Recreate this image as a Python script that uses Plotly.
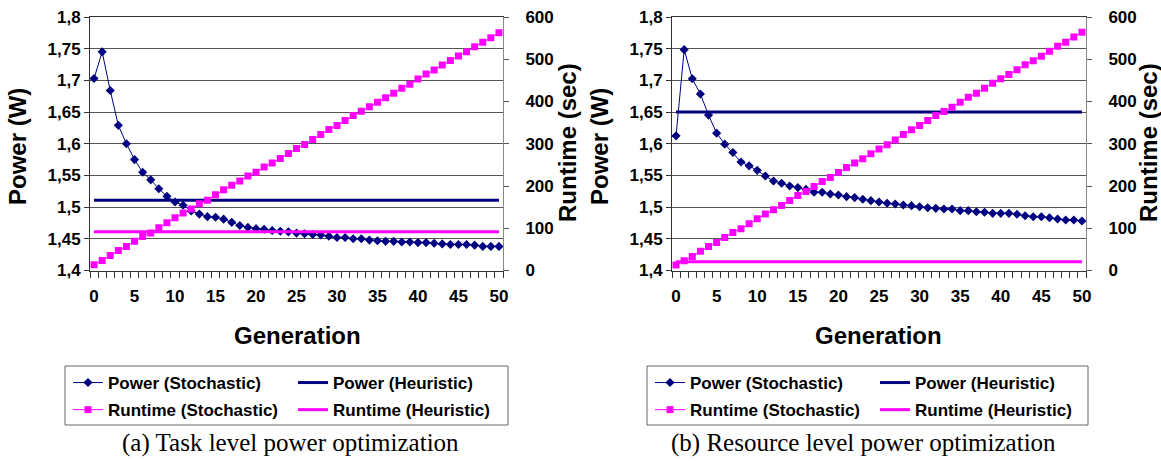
import plotly.graph_objects as go

W, H = 1161, 462

generation = list(range(51))
x_tick_vals = [0, 5, 10, 15, 20, 25, 30, 35, 40, 45, 50]
x_tick_text = ["0", "5", "10", "15", "20", "25", "30", "35", "40", "45", "50"]
power_tick_vals = [1.4, 1.45, 1.5, 1.55, 1.6, 1.65, 1.7, 1.75, 1.8]
power_tick_text = ["1,4", "1,45", "1,5", "1,55", "1,6", "1,65", "1,7", "1,75", "1,8"]
runtime_tick_vals = [0, 100, 200, 300, 400, 500, 600]
runtime_tick_text = ["0", "100", "200", "300", "400", "500", "600"]

# (a) Task level
task_power_stoch = [1.703, 1.745, 1.684, 1.629, 1.600, 1.575, 1.555, 1.543, 1.529, 1.517,
                    1.508, 1.503, 1.494, 1.489, 1.485, 1.484, 1.481, 1.476, 1.471, 1.468,
                    1.466, 1.465, 1.463, 1.462, 1.461, 1.459, 1.458, 1.457, 1.456, 1.454,
                    1.452, 1.452, 1.450, 1.450, 1.448, 1.447, 1.446, 1.446, 1.445, 1.445,
                    1.444, 1.444, 1.443, 1.442, 1.441, 1.441, 1.441, 1.440, 1.438, 1.438,
                    1.438]
task_power_heur = 1.511
task_runtime_stoch = [13.5, 23.7, 35.6, 47.4, 56.9, 69.5, 80.6, 88.5, 101.2, 113.0,
                      125.0, 136.0, 145.4, 158.0, 166.0, 179.5, 191.4, 201.6, 211.8, 223.6,
                      232.4, 245.0, 254.5, 264.8, 276.7, 288.5, 298.0, 310.0, 321.8, 333.7,
                      343.1, 355.0, 366.8, 377.1, 387.3, 398.4, 408.7, 419.8, 431.6, 441.1,
                      453.0, 464.8, 474.3, 486.2, 497.2, 507.5, 517.7, 529.6, 540.0, 550.9,
                      562.8]
task_runtime_heur = 92

# (b) Resource level
res_power_stoch = [1.6125, 1.7485, 1.7026, 1.6784, 1.6452, 1.6167, 1.5994, 1.5861, 1.5712, 1.5651,
                   1.5580, 1.5491, 1.5413, 1.5377, 1.5334, 1.5308, 1.5282, 1.5235, 1.5235, 1.5208,
                   1.5192, 1.5165, 1.5150, 1.5124, 1.5102, 1.5080, 1.5061, 1.5050, 1.5034, 1.5023,
                   1.5007, 1.4991, 1.4981, 1.4971, 1.4971, 1.4944, 1.4944, 1.4928, 1.4918, 1.4902,
                   1.4902, 1.4902, 1.4887, 1.4865, 1.4849, 1.4849, 1.4833, 1.4812, 1.4797, 1.4797,
                   1.4781]
res_power_heur = 1.650
res_runtime_stoch = [13.3, 22.8, 33.0, 45.8, 56.7, 66.2, 78.0, 89.9, 98.7, 110.5,
                     122.4, 133.5, 143.7, 153.9, 165.8, 177.6, 187.1, 199.0, 210.8, 220.3,
                     232.2, 244.0, 254.5, 264.4, 276.6, 287.7, 297.9, 309.0, 321.6, 333.4,
                     343.0, 354.8, 366.6, 376.1, 386.3, 398.2, 410.0, 419.5, 431.4, 443.2,
                     453.6, 463.9, 475.0, 486.9, 496.4, 507.3, 519.1, 531.0, 540.5, 552.4,
                     564.2]
res_runtime_heur = 21

NAVY = "#000080"
MAGENTA = "#FF00FF"
FONT = "Liberation Sans, Arial, sans-serif"


def px(x):
    return x / W


def py(y):
    return 1 - y / H


fig = go.Figure()

panels = [
    dict(x="x", yp="y", yr="y2", ps=task_power_stoch, ph=task_power_heur,
         rs=task_runtime_stoch, rh=task_runtime_heur, lg=("legend", "legend2")),
    dict(x="x2", yp="y3", yr="y4", ps=res_power_stoch, ph=res_power_heur,
         rs=res_runtime_stoch, rh=res_runtime_heur, lg=("legend3", "legend4")),
]

for i, p in enumerate(panels):
    fig.add_trace(go.Scatter(
        x=generation, y=p["ps"], xaxis=p["x"], yaxis=p["yp"], mode="lines+markers",
        name="Power (Stochastic)", line=dict(color=NAVY, width=1),
        marker=dict(symbol="diamond", size=7, color=NAVY),
        legend=p["lg"][0], legendgroup=f"a{i}"))
    fig.add_trace(go.Scatter(
        x=generation, y=[p["ph"]] * len(generation), xaxis=p["x"], yaxis=p["yp"], mode="lines",
        name="Power (Heuristic)", line=dict(color=NAVY, width=3),
        legend=p["lg"][1], legendgroup=f"b{i}"))
    fig.add_trace(go.Scatter(
        x=generation, y=p["rs"], xaxis=p["x"], yaxis=p["yr"], mode="lines+markers",
        name="Runtime (Stochastic)", line=dict(color=MAGENTA, width=1),
        marker=dict(symbol="square", size=7, color=MAGENTA),
        legend=p["lg"][0], legendgroup=f"c{i}"))
    fig.add_trace(go.Scatter(
        x=generation, y=[p["rh"]] * len(generation), xaxis=p["x"], yaxis=p["yr"], mode="lines",
        name="Runtime (Heuristic)", line=dict(color=MAGENTA, width=3),
        legend=p["lg"][1], legendgroup=f"d{i}"))

tickfont = dict(family=FONT, size=17, color="black", weight="bold")
ydom = [py(270.5), py(17)]

xaxis_common = dict(
    range=[-0.5, 50.5], tickmode="array", tickvals=x_tick_vals, ticktext=x_tick_text,
    ticks="", showgrid=False, zeroline=False, showline=True, linecolor="#333333",
    linewidth=1, mirror=True, tickfont=tickfont, ticklabelstandoff=10,
    minor=dict(tickmode="linear", tick0=-0.5, dtick=1, ticks="outside", ticklen=6,
               tickcolor="#333333", tickwidth=1, showgrid=False),
)
ypow_common = dict(
    range=[1.4, 1.8], tickmode="array", tickvals=power_tick_vals, ticktext=power_tick_text,
    ticks="outside", ticklen=5, tickcolor="#333333", showgrid=True, gridcolor="#555555",
    gridwidth=1, zeroline=False, showline=True, linecolor="#333333", linewidth=1,
    tickfont=tickfont, domain=ydom,
)
yrun_common = dict(
    range=[0, 600], tickmode="array", tickvals=runtime_tick_vals, ticktext=runtime_tick_text,
    ticks="outside", ticklen=5, tickcolor="#555555", showgrid=False, zeroline=False,
    showline=True, linecolor="#888888", linewidth=1, tickfont=tickfont, side="right",
    ticklabelstandoff=13,
)

fig.update_layout(
    width=W, height=H, margin=dict(l=0, r=0, t=0, b=0, autoexpand=False),
    paper_bgcolor="white", plot_bgcolor="white", hovermode=False,
    xaxis=dict(domain=[px(90), px(503)], anchor="y", **xaxis_common),
    xaxis2=dict(domain=[px(672), px(1086)], anchor="y3", **xaxis_common),
    yaxis=dict(anchor="x", **ypow_common),
    yaxis2=dict(anchor="x", overlaying="y", **yrun_common),
    yaxis3=dict(anchor="x2", **ypow_common),
    yaxis4=dict(anchor="x2", overlaying="y3", **yrun_common),
)

legfont = dict(family=FONT, size=17, color="black", weight="bold")
leg_common = dict(orientation="v", xanchor="left", yanchor="top", bgcolor="rgba(0,0,0,0)",
                  borderwidth=0, font=legfont, tracegroupgap=2, itemwidth=30)
fig.update_layout(
    legend=dict(x=px(68), y=py(365), **leg_common),
    legend2=dict(x=px(293), y=py(365), **leg_common),
    legend3=dict(x=px(650), y=py(365), **leg_common),
    legend4=dict(x=px(875), y=py(365), **leg_common),
)

# legend frames
for x0, x1 in [(65, 508), (647, 1088)]:
    fig.add_shape(type="rect", xref="paper", yref="paper", x0=px(x0), x1=px(x1),
                  y0=py(425), y1=py(366), line=dict(color="#666666", width=1),
                  fillcolor="rgba(0,0,0,0)")

titlefont = dict(family=FONT, size=24, color="black", weight="bold")
annots = [
    dict(text="Power (W)", x=px(18), y=py(147), textangle=-90),
    dict(text="Runtime (sec)", x=px(567), y=py(143), textangle=-90),
    dict(text="Generation", x=px(297), y=py(335), textangle=0),
    dict(text="Power (W)", x=px(600), y=py(147), textangle=-90),
    dict(text="Runtime (sec)", x=px(1148), y=py(143), textangle=-90),
    dict(text="Generation", x=px(878), y=py(335), textangle=0),
]
for a in annots:
    fig.add_annotation(xref="paper", yref="paper", showarrow=False, xanchor="center",
                       yanchor="middle", font=titlefont, **a)

capfont = dict(family="Liberation Serif, Times New Roman, serif", size=25, color="black")
fig.add_annotation(text="(a) Task level power optimization", x=px(290), y=py(443),
                   xref="paper", yref="paper", showarrow=False, font=capfont,
                   xanchor="center", yanchor="middle")
fig.add_annotation(text="(b) Resource level power optimization", x=px(863), y=py(443),
                   xref="paper", yref="paper", showarrow=False, font=capfont,
                   xanchor="center", yanchor="middle")

fig.write_html("out.html", config={"displayModeBar": False},
               post_script="document.body.style.margin='0';document.body.style.padding='0';")
